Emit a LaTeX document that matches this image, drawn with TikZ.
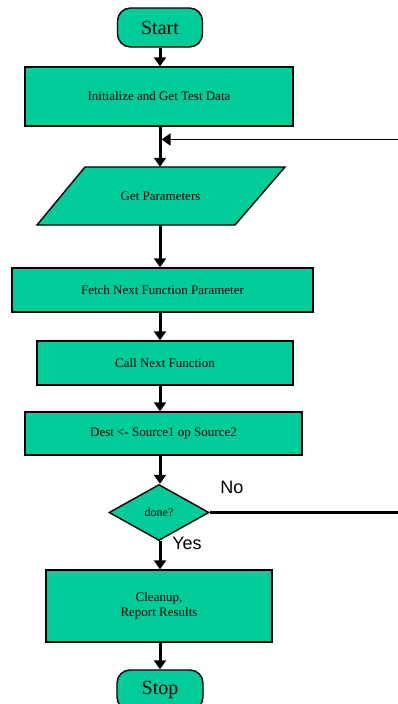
\documentclass[tikz,border=0pt]{standalone}
\usepackage{fontspec}
\usetikzlibrary{arrows.meta,shapes.geometric}
\newfontfamily\serifface{Liberation Serif}
\newfontfamily\labelface{Liberation Sans}
\definecolor{flowgreen}{RGB}{0,204,153}
\tikzset{
  box/.style={draw=black, line width=1.4pt, fill=flowgreen, inner sep=0pt,
    align=center, font=\serifface\fontsize{13}{15}\selectfont},
  term/.style={box, rounded corners=13pt, font=\serifface\fontsize{20}{24}\selectfont},
  plain/.style={inner sep=0pt, align=center, font=\serifface\fontsize{13}{15}\selectfont},
  decision/.style={box, diamond, aspect=1.8, font=\serifface\fontsize{12}{14}\selectfont},
  flow/.style={line width=3pt, -{Triangle[width=12pt,length=9pt]}},
  backline/.style={line width=1.8pt},
  noline/.style={line width=2.4pt},
  branch/.style={font=\labelface\fontsize{18}{20}\selectfont, inner sep=0pt}
}
\begin{document}
\begin{tikzpicture}[x=1pt,y=-1pt]
  \useasboundingbox[fill=white] (0,0) rectangle (397,704);

  % main column
  \coordinate (spine) at (160,0);
  \node[term, minimum width=85pt, minimum height=39pt] (start) at (160,27.5) {Start};
  \node[box, minimum width=268pt, minimum height=59pt] (init) at (159,96.5) {Initialize and Get Test Data};

  % input parallelogram
  \draw[line width=1.4pt, fill=flowgreen] (85,167) -- (285,167) -- (235,225) -- (37,225) -- cycle;
  \node[plain, minimum width=198pt, minimum height=58pt] (params) at (160.5,196) {Get Parameters};

  \node[box, minimum width=301pt, minimum height=44pt] (fetch) at (162.5,290) {Fetch Next Function Parameter};
  \node[box, minimum width=256pt, minimum height=44pt] (call) at (165,363) {Call Next Function};
  \node[box, minimum width=277pt, minimum height=43pt] (dest) at (163.5,433.5) {Dest <- Source1 op Source2};
  \node[decision, minimum width=100pt, minimum height=56pt] (done) at (159,512.5) {done?};
  \node[box, minimum width=226pt, minimum height=72pt] (cleanup) at (159,606) {Cleanup,\\Report Results};
  \node[term, minimum width=86pt, minimum height=40pt] (stop) at (160,690) {Stop};

  % forward connectors
  \draw[flow] (start.south -| spine) -- (init.north -| spine);
  \draw[flow] (init.south -| spine) -- (params.north -| spine);
  \draw[flow] (params.south -| spine) -- (fetch.north -| spine);
  \draw[flow] (fetch.south -| spine) -- (call.north -| spine);
  \draw[flow] (call.south -| spine) -- (dest.north -| spine);
  \draw[flow] (dest.south -| spine) -- (done.north -| spine);
  \draw[flow] (done.south -| spine) -- (cleanup.north -| spine);
  \draw[flow] (cleanup.south -| spine) -- (stop.north -| spine);

  % loop back
  \coordinate (noexit) at (400,512.5);
  \coordinate (backin) at (400,139.5);
  \coordinate (merge) at (161.5,139.5);
  \draw[noline] (done.east) -- (noexit);
  \draw[backline, -{Triangle[width=12pt,length=9pt]}] (backin) -- (merge);

  % branch labels
  \node[branch] (nolabel) at (232,487) {No};
  \node[branch] (yeslabel) at (187,543) {Yes};
\end{tikzpicture}
\end{document}
